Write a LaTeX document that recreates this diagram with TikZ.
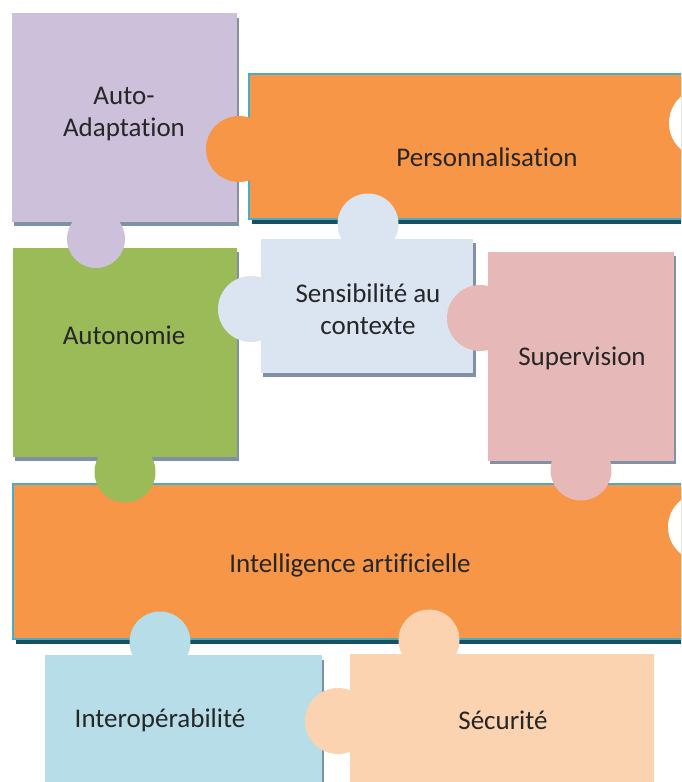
\documentclass[tikz,border=0pt]{standalone}
\usepackage{fontspec}
\setmainfont{Carlito}[Ligatures=NoCommon]
\definecolor{cpurple}{HTML}{CCC0DA}
\definecolor{corange}{HTML}{F79646}
\definecolor{cteal}{HTML}{4BACC6}
\definecolor{cdark}{HTML}{17505F}
\definecolor{cgreen}{HTML}{9BBB59}
\definecolor{csens}{HTML}{DBE5F1}
\definecolor{cpink}{HTML}{E6B9B8}
\definecolor{cinter}{HTML}{B7DEE8}
\definecolor{cpeach}{HTML}{FBD3B0}
\definecolor{cshadow}{HTML}{8091A6}
\definecolor{ctext}{HTML}{262626}
\begin{document}
\begin{tikzpicture}[x=1pt,y=-1pt,
  lbl/.style={font=\fontsize{27}{32}\selectfont, text=ctext, align=center, inner sep=0pt},
  shd/.style={fill=cshadow},
  darkshd/.style={fill=cdark},
  orangepiece/.style={fill=corange, draw=cteal, line width=1.5pt}]
\useasboundingbox (0,0) rectangle (681,782);
\clip (0,0) rectangle (681,782);
% shadows and bodies
\fill[shd] (14,18) rectangle (239,226);
\fill[cpurple] (12,13) rectangle (237,222);
\fill[darkshd] (252,78) rectangle (720,224);
\draw[orangepiece] (249,74) rectangle (720,219);
\fill[shd] (15,252) rectangle (239,461);
\fill[cgreen] (13,248) rectangle (237,457);
\fill[shd] (263,243) rectangle (476,377);
\fill[csens] (261,239) rectangle (473,373);
\fill[shd] (490,256) rectangle (676,464);
\fill[cpink] (488,252) rectangle (674,461);
\fill[darkshd] (16,488) rectangle (720,644);
\draw[orangepiece] (13,484) rectangle (720,639);
\fill[shd] (47,660) rectangle (324,800);
\fill[cinter] (45,655) rectangle (322,800);
\fill[cpeach] (350,654) rectangle (654,800);
% tabs
\fill[cpurple] (96,239) circle[radius=29];
\fill[corange] (239,149) circle[radius=33];
\fill[cgreen] (125,472) circle[radius=30.5];
\fill[csens] (368,224) circle[radius=30.5];
\fill[csens] (251,309) circle[radius=33];
\fill[cpink] (480,318) circle[radius=33];
\fill[cpink] (581,470) circle[radius=30.5];
\fill[cinter] (160,642) circle[radius=30.5];
\fill[cpeach] (429,640) circle[radius=30.5];
\fill[cpeach] (338,721) circle[radius=33];
% notches
\fill[white] (704,123) circle[radius=35];
\fill[white] (702,527) circle[radius=34];
% labels
\node[lbl] (auto) at (124,114) {Auto-\\Adaptation};
\node[lbl] (perso) at (487,157) {Personnalisation};
\node[lbl] (autonomie) at (124,335) {Autonomie};
\node[lbl] (sens) at (368,309) {Sensibilité au\\contexte};
\node[lbl] (superv) at (582,358) {Supervision};
\node[lbl] (ia) at (350,565) {Intelligence artificielle};
\node[lbl] (interop) at (160,720) {Interopérabilité};
\node[lbl] (secu) at (503,720) {Sécurité};
\end{tikzpicture}
\end{document}
